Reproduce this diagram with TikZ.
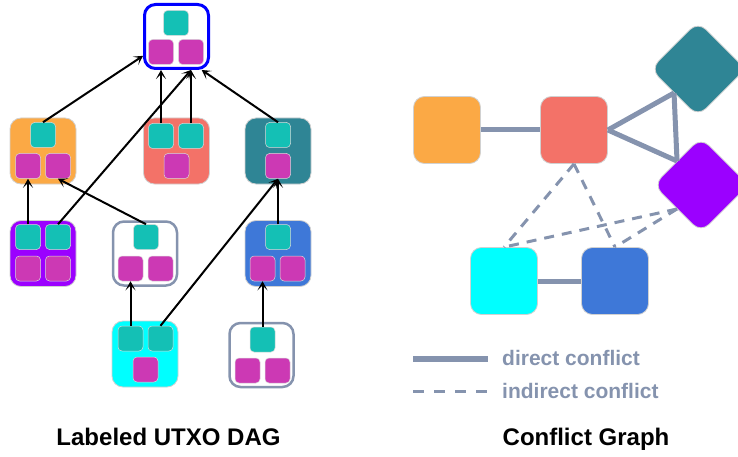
\documentclass[tikz,border=0pt]{standalone}
\usepackage{fontspec}
\setmainfont{Liberation Sans}
\usetikzlibrary{arrows.meta}
\definecolor{txteal}{RGB}{20,192,181}
\definecolor{txmag}{RGB}{204,57,180}
\definecolor{cOrange}{RGB}{251,169,69}
\definecolor{cSalmon}{RGB}{243,114,104}
\definecolor{cDteal}{RGB}{47,133,149}
\definecolor{cPurple}{RGB}{155,0,255}
\definecolor{cBlue}{RGB}{62,120,216}
\definecolor{cCyan}{RGB}{0,255,255}
\definecolor{cEdge}{RGB}{133,147,174}
\tikzset{
	box/.style={rounded corners=11pt, minimum size=66pt, inner sep=0pt, draw=black!18, line width=0.8pt},
	wbox/.style={box, fill=white, draw=cEdge, line width=2.5pt, minimum size=64pt},
	tsq/.style={rounded corners=4pt, minimum size=25pt, inner sep=0pt, fill=txteal, draw=black!15, line width=0.5pt},
	msq/.style={tsq, fill=txmag},
	arr/.style={-{Stealth[length=9pt, width=10pt, inset=5pt]}, line width=2pt},
	direct/.style={draw=cEdge, line width=5pt},
	indirect/.style={draw=cEdge, line width=3pt, dash pattern=on 10pt off 8pt},
	title/.style={font=\bfseries\fontsize{24}{28}\selectfont, inner sep=0pt, anchor=base},
	lgtext/.style={font=\bfseries\fontsize{21}{25}\selectfont, text=cEdge, inner sep=0pt, anchor=base west}
}
\begin{document}
\begin{tikzpicture}[x=1pt, y=-1pt]
	%%%%% START %%%%%
	\useasboundingbox (0, 0) rectangle (738, 457);

	% utxo dag
	\node[box, fill=white, draw=blue, line width=3pt, minimum size=64pt] (top) at (176.5, 36.5) {};
	\node[tsq] (topT) at (176, 23) {};
	\node[msq] (topM1) at (161, 52) {};
	\node[msq] (topM2) at (191, 52) {};

	\node[box, fill=cOrange] (or) at (43, 151) {};
	\node[tsq] (orT) at (43, 135) {};
	\node[msq] (orM1) at (28, 166) {};
	\node[msq] (orM2) at (58, 166) {};

	\node[box, fill=cSalmon] (sl) at (176.5, 151) {};
	\node[tsq] (slT1) at (161, 136) {};
	\node[tsq] (slT2) at (191, 136) {};
	\node[msq] (slM) at (176.5, 166) {};

	\node[box, fill=cDteal] (dt) at (278, 151) {};
	\node[tsq] (dtT) at (278, 135) {};
	\node[msq] (dtM) at (278, 166) {};

	\node[box, fill=cPurple] (pu) at (43, 253.5) {};
	\node[tsq] (puT1) at (28, 237) {};
	\node[tsq] (puT2) at (58, 237) {};
	\node[msq] (puM1) at (28, 268.5) {};
	\node[msq] (puM2) at (58, 268.5) {};

	\node[wbox] (wa) at (145, 253.5) {};
	\node[tsq] (waT) at (146, 237) {};
	\node[msq] (waM1) at (130.5, 268.5) {};
	\node[msq] (waM2) at (160.5, 268.5) {};

	\node[box, fill=cBlue] (bl) at (278, 253.5) {};
	\node[tsq] (blT) at (278, 237) {};
	\node[msq] (blM1) at (262.5, 268.5) {};
	\node[msq] (blM2) at (292.5, 268.5) {};

	\node[box, fill=cCyan] (cy) at (145, 354) {};
	\node[tsq] (cyT1) at (130.5, 338.5) {};
	\node[tsq] (cyT2) at (160.5, 338.5) {};
	\node[msq] (cyM) at (145.5, 369.5) {};

	\node[wbox] (wb) at (261.5, 355) {};
	\node[tsq] (wbT) at (262.5, 339.5) {};
	\node[msq] (wbM1) at (247.5, 370.5) {};
	\node[msq] (wbM2) at (277.5, 370.5) {};

	\draw[arr] (orT.north) -- (top.210);
	\draw[arr] (slT1.north) -- (topM1.south |- top.south);
	\draw[arr] (slT2.north) -- (topM2.south |- top.south);
	\draw[arr] (puT2.north) -- (topM2.south |- top.south);
	\draw[arr] (dtT.north) -- (top.-53);
	\draw[arr] (puT1.north) -- (orM1.south);
	\draw[arr] (waT.north) -- (orM2.south);
	\draw[arr] (cyT1.north) -- (waM1.south);
	\draw[arr] (cyT2.north) -- (dtM.south);
	\draw[arr] (blT.north) -- (dtM.south);
	\draw[arr] (wbT.north) -- (blM1.south);

	\node[title] (dagTitle) at (168.5, 445) {Labeled UTXO DAG};

	% conflict graph
	\node[box, fill=cOrange, minimum size=67pt] (cgOr) at (447, 130) {};
	\node[box, fill=cSalmon, minimum size=67pt] (cgSl) at (574, 130) {};
	\node[box, fill=cDteal, minimum size=67pt, rotate=45] (cgDt) at (698, 69) {};
	\node[box, fill=cPurple, minimum size=67pt, rotate=45] (cgPu) at (701, 185) {};
	\node[box, fill=cCyan, minimum size=67pt] (cgCy) at (504, 281) {};
	\node[box, fill=cBlue, minimum size=67pt] (cgBl) at (615, 281) {};

	\draw[direct] (cgOr) -- (cgSl);
	\draw[direct] (cgSl.east) -- (cgDt.west);
	\draw[direct] (cgSl.east) -- (cgPu.north);
	\draw[direct] (cgDt.west) -- (cgPu.north);
	\draw[direct] (cgCy) -- (cgBl);
	\draw[indirect] (cgSl.south) -- (cgCy.north);
	\draw[indirect] (cgSl.south) -- (cgBl.north);
	\draw[indirect] (cgPu.west) -- (cgCy.north);
	\draw[indirect] (cgPu.west) -- (cgBl.north);

	% legend
	\coordinate (lgA1) at (413, 359);
	\coordinate (lgA2) at (488, 359);
	\coordinate (lgB1) at (413, 391);
	\coordinate (lgB2) at (488, 391);
	\draw[direct, line width=6pt] (lgA1) -- (lgA2);
	\draw[indirect, dash pattern=on 11pt off 10pt] (lgB1) -- (lgB2);
	\node[lgtext] (lgDirect) at (502, 365) {direct conflict};
	\node[lgtext] (lgIndirect) at (502, 398) {indirect conflict};

	\node[title] (cgTitle) at (586, 445) {Conflict Graph};

	%%%%% END %%%%%
\end{tikzpicture}
\end{document}
